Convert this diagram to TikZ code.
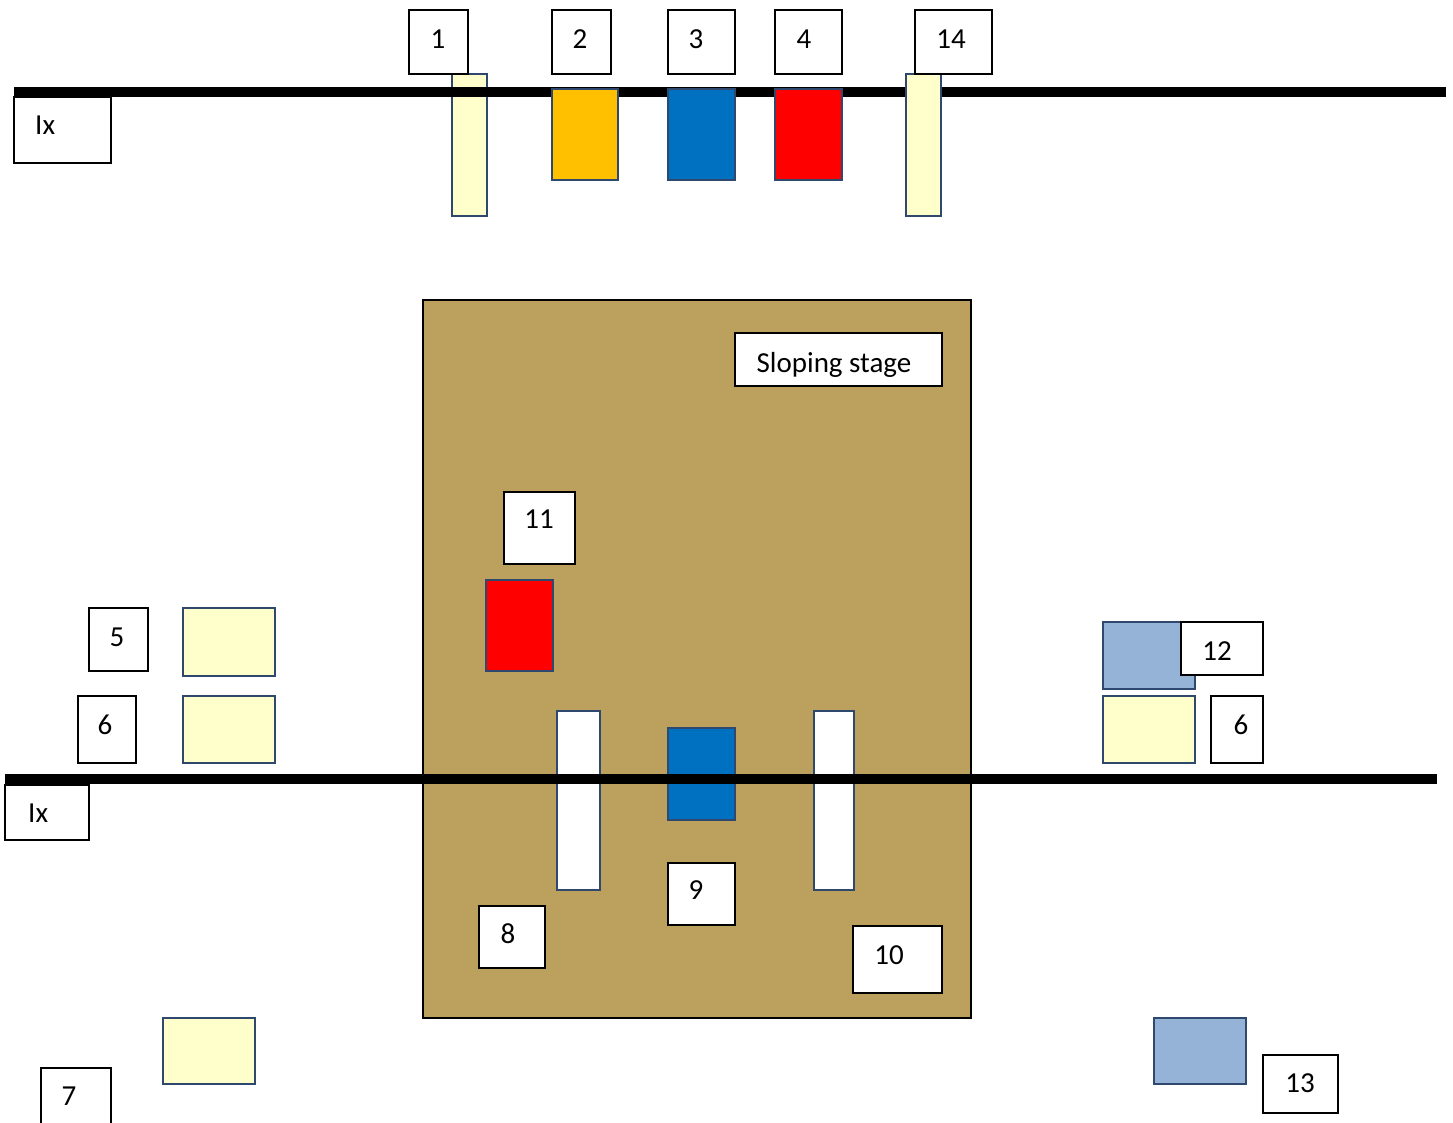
\documentclass[tikz,border=0pt]{standalone}
\usepackage{fontspec}
\setmainfont{Carlito}
\usetikzlibrary{fit}
\definecolor{edge}{RGB}{47,72,110}
\definecolor{pale}{RGB}{255,255,204}
\definecolor{amber}{RGB}{255,192,0}
\definecolor{deepblue}{RGB}{0,112,192}
\definecolor{brightred}{RGB}{255,0,0}
\definecolor{steel}{RGB}{149,179,215}
\definecolor{stagetan}{RGB}{187,160,94}
\tikzset{
  shp/.style={inner sep=0pt, outer sep=0pt},
  lblbox/.style={shp, draw=black, fill=white, line width=1.6pt},
  part/.style={shp, draw=edge, line width=2pt},
  txt/.style={inner sep=0pt, font=\fontsize{29}{34}\selectfont, anchor=base},
  rail/.style={line width=10pt, black},
}
\begin{document}
\begin{tikzpicture}[x=1pt,y=-1pt]
\useasboundingbox (0,0) rectangle (1453,1122);
% ---- top row ----
\node[part, fill=pale, fit={(452,74)(487,216)}] (bar1) {};
\coordinate (r1a) at (14,92);
\coordinate (r1b) at (1446,92);
\draw[rail] (r1a) -- (r1b);
\node[lblbox, fit={(14,97)(111,163)}] (ix1) {};
\node[txt, anchor=base west] (ix1t) at (35,134) {Ix};
\node[part, fill=amber, fit={(552,89)(618,180)}] (p2) {};
\node[part, fill=deepblue, fit={(668,89)(735,180)}] (p3) {};
\node[part, fill=brightred, fit={(775,89)(842,180)}] (p4) {};
\node[part, fill=pale, fit={(906,74)(941,216)}] (bar14) {};
\node[lblbox, fit={(409,10)(468,74)}] (b1) {};
\node[txt] (t1) at (438,48) {1};
\node[lblbox, fit={(552,10)(611,74)}] (b2) {};
\node[txt] (t2) at (580,48) {2};
\node[lblbox, fit={(668,10)(735,74)}] (b3) {};
\node[txt] (t3) at (696,48) {3};
\node[lblbox, fit={(775,10)(842,74)}] (b4) {};
\node[txt] (t4) at (804,48) {4};
\node[lblbox, fit={(915,10)(992,74)}] (b14) {};
\node[txt] (t14) at (951,48) {14};
% ---- stage ----
\node[shp, draw=black, line width=1.6pt, fill=stagetan, fit={(423,300)(971,1018)}] (stage) {};
\node[lblbox, fit={(735,333)(942,386)}] (slope) {};
\node[txt] (slopet) at (834,372) {Sloping stage};
\node[lblbox, fit={(504,492)(575,564)}] (b11) {};
\node[txt] (t11) at (539,528) {11};
\node[part, fill=brightred, fit={(486,580)(553,671)}] (p11) {};
\node[part, fill=white, fit={(557,711)(600,890)}] (wbar1) {};
\node[part, fill=white, fit={(814,711)(854,890)}] (wbar2) {};
\node[part, fill=deepblue, fit={(668,728)(735,820)}] (p9) {};
\node[lblbox, fit={(668,863)(735,925)}] (b9) {};
\node[txt] (t9) at (696,899) {9};
\node[lblbox, fit={(479,906)(545,968)}] (b8) {};
\node[txt] (t8) at (508,943) {8};
\node[lblbox, fit={(853,926)(942,993)}] (b10) {};
\node[txt] (t10) at (889,964) {10};
% ---- left side ----
\node[lblbox, fit={(89,608)(148,671)}] (b5) {};
\node[txt] (t5) at (117,646) {5};
\node[part, fill=pale, fit={(183,608)(275,676)}] (p5) {};
\node[lblbox, fit={(78,696)(136,763)}] (b6l) {};
\node[txt] (t6l) at (105,734) {6};
\node[part, fill=pale, fit={(183,696)(275,763)}] (p6l) {};
\node[part, fill=pale, fit={(163,1018)(255,1084)}] (p7) {};
\node[lblbox, fit={(41,1068)(111,1135)}] (b7) {};
\node[txt] (t7) at (69,1105) {7};
% ---- right side ----
\node[part, fill=steel, fit={(1103,622)(1195,689)}] (p12) {};
\node[lblbox, fit={(1181,622)(1263,675)}] (b12) {};
\node[txt] (t12) at (1217,660) {12};
\node[part, fill=pale, fit={(1103,696)(1195,763)}] (p6r) {};
\node[lblbox, fit={(1211,696)(1263,763)}] (b6r) {};
\node[txt] (t6r) at (1241,734) {6};
\node[part, fill=steel, fit={(1154,1018)(1246,1084)}] (p13) {};
\node[lblbox, fit={(1263,1055)(1338,1113)}] (b13) {};
\node[txt] (t13) at (1300,1092) {13};
% ---- bottom rail ----
\coordinate (r2a) at (5,779);
\coordinate (r2b) at (1437,779);
\draw[rail] (r2a) -- (r2b);
\node[lblbox, fit={(5,785)(89,840)}] (ix2) {};
\node[txt, anchor=base west] (ix2t) at (28,822) {Ix};
\end{tikzpicture}
\end{document}
